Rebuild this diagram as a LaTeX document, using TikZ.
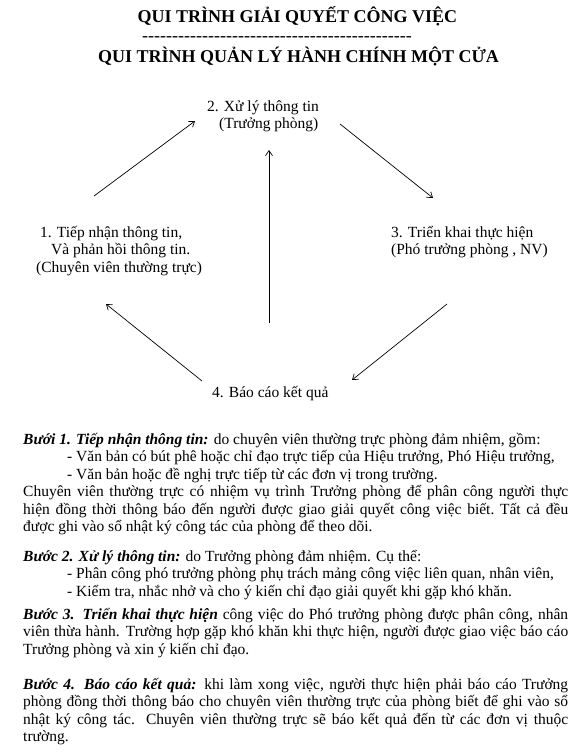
\documentclass[tikz,border=0pt]{standalone}
\usepackage{fontspec}
\setmainfont{Liberation Serif}
\usetikzlibrary{arrows.meta}

\newcommand\tstrut{\rule{0pt}{16pt}}
\newcommand\jline[1]{\makebox[545pt][s]{#1}}
\newcommand\lead[1]{\textbf{\textit{#1}}}

\tikzset{
  lbl/.style={inner sep=0pt, align=left, anchor=north west,
    font={\fontsize{15.5}{17.5}\selectfont}},
  para/.style={lbl},
  head/.style={inner sep=0pt, anchor=base,
    font={\fontsize{18}{20}\selectfont\bfseries}},
  flow/.style={line width=0.7pt, -{Straight Barb[length=5pt,width=7pt]}}
}

\begin{document}
\begin{tikzpicture}[x=1pt,y=-1pt]
\useasboundingbox (0,0) rectangle (582,756);

% headings
\node[head] (title) at (297.5,22) {QUI TRÌNH GIẢI QUYẾT CÔNG VIỆC};
\node[head,font={\fontsize{18}{20}\selectfont}] (rule) at (277,41.5) {\foreach \i in {1,...,45}{-\kern0pt}};
\node[head] (subtitle) at (298.5,62) {QUI TRÌNH QUẢN LÝ HÀNH CHÍNH MỘT CỬA};

% the four steps
\node[lbl] (xuly) at (207,95) {\tstrut 2. Xử lý thông tin\\\hspace*{12pt}(Trưởng phòng)};
\node[lbl] (tiepnhan) at (36,221) {\tstrut\hspace*{4pt}1. Tiếp nhận thông tin,\\
  \hspace*{15pt}Và phản hồi thông tin.\\(Chuyên viên thường trực)};
\node[lbl] (trienkhai) at (391,221) {\tstrut 3. Triển khai thực hiện\\(Phó trưởng phòng , NV)};
\node[lbl] (baocao) at (212,381) {\tstrut 4. Báo cáo kết quả};

% arrows round the cycle
\coordinate (t12) at (94,196);  \coordinate (h12) at (195,121);
\coordinate (t23) at (340,124); \coordinate (h23) at (433,198);
\coordinate (t34) at (447,304); \coordinate (h34) at (352,380);
\coordinate (t41) at (202,381); \coordinate (h41) at (106,304);
\coordinate (t42) at (269,323); \coordinate (h42) at (269,150);
\draw[flow] (t12) -- (h12);
\draw[flow] (t23) -- (h23);
\draw[flow] (t34) -- (h34);
\draw[flow] (t41) -- (h41);
\draw[flow] (t42) -- (h42);

% text of the steps
\node[para] (buoc1) at (23,428) {\tstrut\lead{Bưới 1. Tiếp nhận thông tin:} do chuyên viên thường trực phòng đảm nhiệm, gồm:\\
  \hspace*{44pt}- Văn bản có bút phê hoặc chỉ đạo trực tiếp của Hiệu trưởng, Phó Hiệu trưởng,\\
  \hspace*{44pt}- Văn bản hoặc đề nghị trực tiếp từ các đơn vị trong trường.\\
  \jline{Chuyên viên thường trực có nhiệm vụ trình Trưởng phòng để phân công người thực}\\
  \jline{hiện đồng thời thông báo đến người được giao giải quyết công việc biết.\  Tất cả đều}\\
  được ghi vào sổ nhật ký công tác của phòng để theo dõi.};
\node[para] (buoc2) at (23,545) {\tstrut\lead{Bước 2. Xử lý thông tin:} do Trưởng phòng đảm nhiệm. Cụ thể:\\
  \hspace*{44pt}- Phân công phó trưởng phòng phụ trách mảng công việc liên quan, nhân viên,\\
  \hspace*{44pt}- Kiểm tra, nhắc nhở và cho ý kiến chỉ đạo giải quyết khi gặp khó khăn.};
\node[para] (buoc3) at (23,603) {\tstrut\jline{\lead{Bước 3. Triển khai thực hiện} công việc do Phó trưởng phòng được phân công, nhân}\\
  \jline{viên thừa hành. Trường hợp gặp khó khăn khi thực hiện, người được giao việc báo cáo}\\
  Trưởng phòng và xin ý kiến chỉ đạo.};
\node[para] (buoc4) at (23,673) {\tstrut\jline{\lead{Bước 4. Báo cáo kết quả:} khi làm xong việc, người thực hiện phải báo cáo Trưởng}\\
  \jline{phòng đồng thời thông báo cho chuyên viên thường trực của phòng biết để ghi\  vào sổ}\\
  \jline{nhật ký công tác. Chuyên viên thường trực sẽ báo kết quả đến từ các đơn vị thuộc}\\
  trường.};
\end{tikzpicture}
\end{document}
